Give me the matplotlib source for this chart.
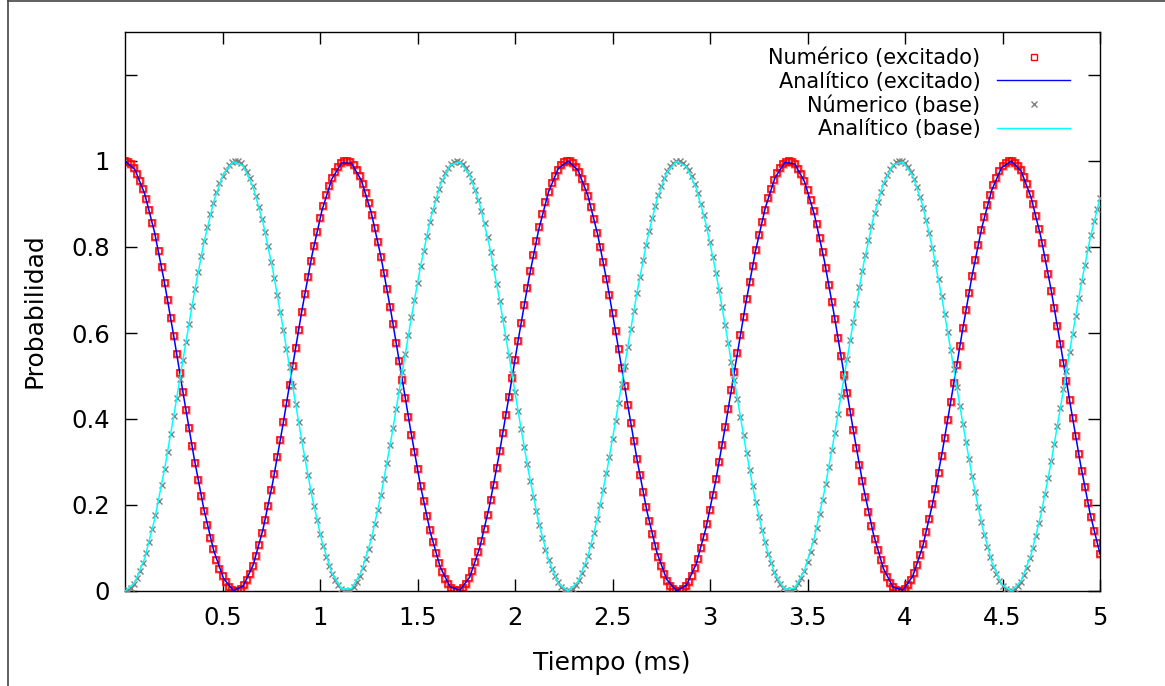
import numpy as np
import matplotlib
matplotlib.use("Agg")
import matplotlib.pyplot as plt
from matplotlib.lines import Line2D

# Rabi oscillation between the excited and ground state
T_RABI = 1.135          # ms, full period of the population transfer
T_MAX = 5.0             # ms
N_NUM = 321             # integration steps stored by the solver
N_ANA = 100             # samples used for the analytic curve

t_num = np.linspace(0.0, T_MAX, N_NUM)
t_ana = np.linspace(0.0, T_MAX, N_ANA)

p_exc_num = np.cos(np.pi * t_num / T_RABI) ** 2
p_base_num = np.sin(np.pi * t_num / T_RABI) ** 2
p_exc_ana = np.cos(np.pi * t_ana / T_RABI) ** 2
p_base_ana = np.sin(np.pi * t_ana / T_RABI) ** 2

labels = ["Numérico (excitado)", "Analítico (excitado)",
          "Númerico (base)", "Analítico (base)"]
xticks = [0.5, 1, 1.5, 2, 2.5, 3, 3.5, 4, 4.5, 5]
yticks = [0, 0.2, 0.4, 0.6, 0.8, 1, 1.2]
ytick_labels = ["0", "0.2", "0.4", "0.6", "0.8", "1", ""]

W, H = 1165, 686
fig = plt.figure(figsize=(W / 100, H / 100), dpi=100)
ax = fig.add_axes([125 / W, 1 - 591 / H, (1100 - 125) / W, (591 - 32) / H])

# soft pink rim under the square markers, then the squares themselves
ax.plot(t_num, p_exc_num, ls="none", marker="s", ms=5, mfc="none",
        mec="#ff6060", mew=2.2, alpha=0.45, zorder=2)
ax.plot(t_num, p_exc_num, ls="none", marker="s", ms=5, mfc="none",
        mec="red", mew=1.1, zorder=2)
ax.plot(t_ana, p_exc_ana, color="blue", lw=1.1, zorder=3)
ax.plot(t_num, p_base_num, ls="none", marker="x", ms=5, mec="#808080",
        mew=1.0, zorder=4)
ax.plot(t_ana, p_base_ana, color="cyan", lw=1.1, zorder=5)

ax.set_xlim(0, T_MAX)
ax.set_ylim(0, 1.3)
ax.set_xticks(xticks)
ax.set_xticklabels([f"{v:g}" for v in xticks])
ax.set_yticks(yticks)
ax.set_yticklabels(ytick_labels)
ax.tick_params(direction="in", length=8.6, width=1.0, top=True, right=True,
               labelsize=17.5, colors="black")
ax.tick_params(axis="x", pad=11)
ax.tick_params(axis="y", pad=11)
for sp in ax.spines.values():
    sp.set_linewidth(1.0)

fig.text(612 / W, 1 - 663 / H, "Tiempo (ms)", ha="center", va="center",
         fontsize=18)
fig.text(35 / W, 1 - 311 / H, "Probabilidad", ha="center", va="center",
         rotation=90, fontsize=18)

handles = [
    Line2D([], [], ls="none", marker="s", ms=4, mfc="none", mec="red", mew=1.0),
    Line2D([], [], color="blue", lw=1.0),
    Line2D([], [], ls="none", marker="x", ms=4, mec="#808080", mew=1.0),
    Line2D([], [], color="cyan", lw=1.0),
]
ax.legend(handles, labels, loc="upper right", bbox_to_anchor=(1070 / W, 1 - 47.5 / H),
          bbox_transform=fig.transFigure, frameon=False, markerfirst=False,
          fontsize=15, handlelength=3.5, handletextpad=0.8, labelspacing=0.17,
          borderpad=0, borderaxespad=0)

# outer frame of the canvas
fig.add_artist(Line2D([7.5 / W, 7.5 / W], [0, 1], color="#444444", lw=1.2,
                      transform=fig.transFigure))
fig.add_artist(Line2D([7.5 / W, 1], [1 - 0.6 / H, 1 - 0.6 / H], color="#444444",
                      lw=1.2, transform=fig.transFigure))

fig.savefig("out.png", dpi=100)
